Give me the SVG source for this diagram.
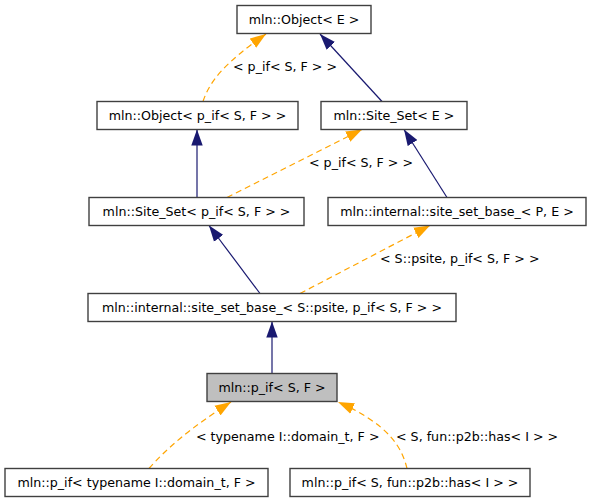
<svg xmlns="http://www.w3.org/2000/svg" width="592" height="504" viewBox="0 0 592 504">
<style>
.node rect{fill:#ffffff;stroke:#404040;stroke-width:1.4}
.node.cur rect{fill:#bfbfbf}
text{font-family:"DejaVu Sans",Verdana,sans-serif;font-size:12.65px;fill:#000000}
.node text{text-anchor:middle}
.inh{fill:none;stroke:#191970;stroke-width:1.2}
.tpl{fill:none;stroke:#ffa500;stroke-width:1.2;stroke-dasharray:6,4}
</style>
<defs>
<marker id="an" markerUnits="userSpaceOnUse" markerWidth="16" markerHeight="12" refX="14" refY="5" orient="auto" viewBox="0 0 14 10">
<path d="M0,0 L14,5 L0,10 z" fill="#191970"/>
</marker>
<marker id="ao" markerUnits="userSpaceOnUse" markerWidth="16" markerHeight="12" refX="14" refY="5" orient="auto" viewBox="0 0 14 10">
<path d="M0,0 L14,5 L0,10 z" fill="#ffa500"/>
</marker>
</defs>
<g id="connectors">
<path class="tpl" d="M203,101.5 C210,80 226,62 266,34" marker-end="url(#ao)"/>
<path class="inh" d="M382,101.5 L320,34" marker-end="url(#an)"/>
<path class="inh" d="M197,197.5 L197,129.5" marker-end="url(#an)"/>
<path class="tpl" d="M227,197.5 L362,129.5" marker-end="url(#ao)"/>
<path class="inh" d="M447,197.5 L404,129.5" marker-end="url(#an)"/>
<path class="inh" d="M260,293.5 L209,225.5" marker-end="url(#an)"/>
<path class="tpl" d="M300,293.5 L430,225.5" marker-end="url(#ao)"/>
<path class="inh" d="M272,373.5 L272,321.5" marker-end="url(#an)"/>
<path class="tpl" d="M149,468.5 C165,450 190,428 231,402" marker-end="url(#ao)"/>
<path class="tpl" d="M407,468.5 C402,448 390,425 338,402" marker-end="url(#ao)"/>
<text x="233" y="71">&lt; p_if&lt; S, F &gt; &gt;</text>
<text x="309" y="167">&lt; p_if&lt; S, F &gt; &gt;</text>
<text x="380" y="263">&lt; S::psite, p_if&lt; S, F &gt; &gt;</text>
<text x="196" y="441">&lt; typename I::domain_t, F &gt;</text>
<text x="396" y="441">&lt; S, fun::p2b::has&lt; I &gt; &gt;</text>
</g>
<g id="n1" class="node"><rect x="237" y="5.5" width="134" height="28"/><text x="304" y="24">mln::Object&lt; E &gt;</text></g>
<g id="n2" class="node"><rect x="97" y="101.5" width="201" height="28"/><text x="197.5" y="120">mln::Object&lt; p_if&lt; S, F &gt; &gt;</text></g>
<g id="n3" class="node"><rect x="321" y="101.5" width="146" height="28"/><text x="394" y="120">mln::Site_Set&lt; E &gt;</text></g>
<g id="n4" class="node"><rect x="89" y="197.5" width="215" height="28"/><text x="196.5" y="216">mln::Site_Set&lt; p_if&lt; S, F &gt; &gt;</text></g>
<g id="n5" class="node"><rect x="328" y="197.5" width="258" height="28"/><text x="457" y="216">mln::internal::site_set_base_&lt; P, E &gt;</text></g>
<g id="n6" class="node"><rect x="88" y="293.5" width="368" height="28"/><text x="272" y="312">mln::internal::site_set_base_&lt; S::psite, p_if&lt; S, F &gt; &gt;</text></g>
<g id="n7" class="node cur"><rect x="207" y="373.5" width="130" height="28"/><text x="272" y="392">mln::p_if&lt; S, F &gt;</text></g>
<g id="n8" class="node"><rect x="5" y="468.5" width="263" height="28"/><text x="136.5" y="487">mln::p_if&lt; typename I::domain_t, F &gt;</text></g>
<g id="n9" class="node"><rect x="290" y="468.5" width="240" height="28"/><text x="410" y="487">mln::p_if&lt; S, fun::p2b::has&lt; I &gt; &gt;</text></g>
</svg>
